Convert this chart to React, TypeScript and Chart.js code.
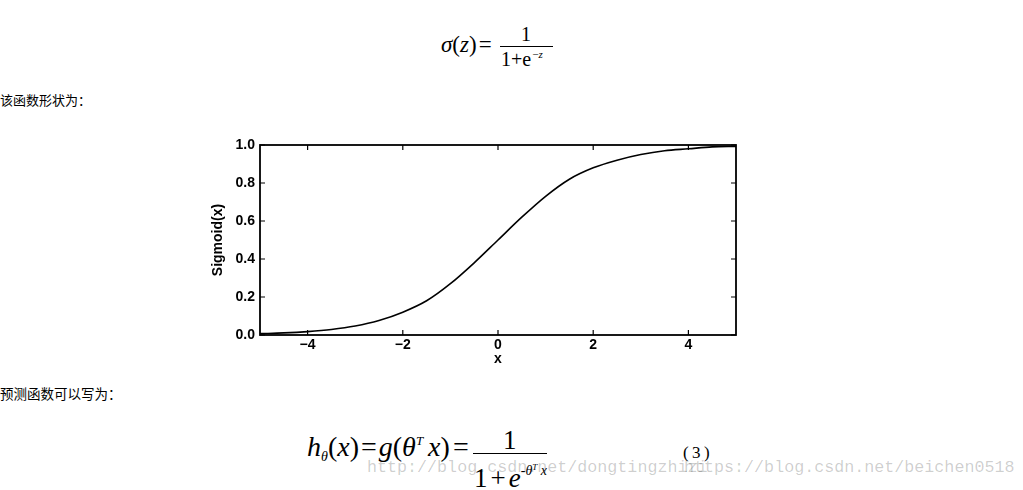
import React, { useEffect, useRef } from 'react';
import { Chart, registerables } from 'chart.js';

Chart.register(...registerables);

// Data
const xValues = [-5, -4.5, -4, -3.5, -3, -2.5, -2, -1.5, -1, -0.5, 0, 0.5, 1, 1.5, 2, 2.5, 3, 3.5, 4, 4.5, 5];
const sigmoidValues = [0.007, 0.011, 0.018, 0.029, 0.047, 0.076, 0.12, 0.18, 0.27, 0.38, 0.5, 0.62, 0.73, 0.82, 0.88, 0.92, 0.95, 0.97, 0.98, 0.99, 0.993];
const xTickValues = [-4, -2, 0, 2, 4];
const yTickValues = [0, 0.2, 0.4, 0.6, 0.8, 1.0];
const xAxisTitle = 'x';
const yAxisTitle = 'Sigmoid(x)';

const SERIF = '"Liberation Serif", "Times New Roman", serif';
const CJK = '"Noto Sans CJK SC", "Noto Sans", sans-serif';
const AXIS_FONT = '"Liberation Sans", Arial, sans-serif';

const framePlugin = {
  id: 'frameTicks',
  afterDraw(chart: any) {
    const { ctx, chartArea } = chart;
    const xs = chart.scales.x;
    const ys = chart.scales.y;
    const { left, right, top, bottom } = chartArea;
    ctx.save();
    ctx.strokeStyle = '#000';
    ctx.lineWidth = 1.8;
    ctx.strokeRect(left, top, right - left, bottom - top);
    ctx.lineWidth = 1.2;
    const len = 5;
    ctx.beginPath();
    xTickValues.forEach((v) => {
      const px = xs.getPixelForValue(v);
      ctx.moveTo(px, bottom);
      ctx.lineTo(px, bottom - len);
      ctx.moveTo(px, top);
      ctx.lineTo(px, top + len);
    });
    yTickValues.forEach((v) => {
      const py = ys.getPixelForValue(v);
      ctx.moveTo(left, py);
      ctx.lineTo(left + len, py);
      ctx.moveTo(right, py);
      ctx.lineTo(right - len, py);
    });
    ctx.stroke();
    ctx.restore();
  },
};

function SigmoidChart() {
  const ref = useRef<HTMLCanvasElement | null>(null);
  useEffect(() => {
    if (!ref.current) return;
    const chart = new Chart(ref.current, {
      type: 'line',
      data: {
        datasets: [
          {
            data: xValues.map((x, i) => ({ x, y: sigmoidValues[i] })),
            borderColor: '#000',
            borderWidth: 1.6,
            pointRadius: 0,
            cubicInterpolationMode: 'monotone',
            fill: false,
          },
        ],
      },
      options: {
        animation: false,
        responsive: false,
        maintainAspectRatio: false,
        layout: { padding: { left: 0, right: 64, top: 15, bottom: 0 } },
        plugins: { legend: { display: false }, tooltip: { enabled: false } },
        scales: {
          x: {
            type: 'linear',
            min: -5,
            max: 5,
            afterBuildTicks: (s: any) => {
              s.ticks = xTickValues.map((v) => ({ value: v }));
            },
            afterFit: (s: any) => {
              s.height = 40;
            },
            grid: { display: false, drawTicks: false },
            border: { display: false },
            ticks: {
              padding: 2,
              color: '#000',
              font: { family: AXIS_FONT, size: 14, weight: 'bold' },
              callback: (v: any) => (Number(v) < 0 ? '\u2212' + Math.abs(Number(v)) : String(v)),
            },
            title: {
              display: true,
              text: xAxisTitle,
              color: '#000',
              font: { family: AXIS_FONT, size: 14, weight: 'bold' },
              padding: { top: 0, bottom: 7 },
            },
          },
          y: {
            type: 'linear',
            min: 0,
            max: 1,
            afterBuildTicks: (s: any) => {
              s.ticks = yTickValues.map((v) => ({ value: v }));
            },
            afterFit: (s: any) => {
              s.width = 60;
            },
            grid: { display: false, drawTicks: false },
            border: { display: false },
            ticks: {
              padding: 5,
              color: '#000',
              font: { family: AXIS_FONT, size: 14, weight: 'bold' },
              callback: (v: any) => Number(v).toFixed(1),
            },
            title: {
              display: true,
              text: yAxisTitle,
              color: '#000',
              font: { family: AXIS_FONT, size: 14, weight: 'bold' },
              padding: { top: 10, bottom: 0 },
            },
          },
        },
      },
      plugins: [framePlugin],
    } as any);
    return () => chart.destroy();
  }, []);
  return (
    <canvas
      ref={ref}
      width={600}
      height={245}
      style={{ position: 'absolute', left: 200, top: 130, width: 600, height: 245 }}
    />
  );
}

const abs = (style: React.CSSProperties): React.CSSProperties => ({
  position: 'absolute',
  whiteSpace: 'nowrap',
  lineHeight: 1,
  ...style,
});

export default function App() {
  return (
    <div
      style={{
        position: 'absolute',
        left: 0,
        top: 0,
        width: 1023,
        height: 490,
        background: '#fff',
        overflow: 'hidden',
        color: '#000',
      }}
    >
      {/* Top formula */}
      <span style={abs({ left: 441, top: 33, fontFamily: SERIF, fontSize: 23 })}>
        <i>σ</i>(<i>z</i>)<span style={{ marginLeft: 2 }}>=</span>
      </span>
      <span style={abs({ left: 521, top: 24, fontFamily: SERIF, fontSize: 20 })}>1</span>
      <div style={{ position: 'absolute', left: 500, top: 46, width: 53, height: 1, background: '#000' }} />
      <span style={abs({ left: 501, top: 49, fontFamily: SERIF, fontSize: 20 })}>
        1+e<sup style={{ fontSize: 11, verticalAlign: 8, marginLeft: 1 }}>−<i>z</i></sup>
      </span>

      <div style={abs({ left: 0, top: 93, fontFamily: CJK, fontSize: 13 })}>该函数形状为：</div>

      <SigmoidChart />

      <div style={abs({ left: 0, top: 387, fontFamily: CJK, fontSize: 13.5 })}>预测函数可以写为：</div>

      {/* Watermarks */}
      <div
        style={abs({
          left: 367,
          top: 460,
          fontFamily: '"Liberation Mono", monospace',
          fontSize: 16.7,
          color: 'rgba(0,0,0,0.2)',
        })}
      >
        http://blog.csdn.net/dongtingzhizi
      </div>
      <div
        style={abs({
          left: 684,
          top: 460,
          fontFamily: '"Liberation Mono", monospace',
          fontSize: 16.7,
          color: 'rgba(0,0,0,0.2)',
        })}
      >
        https://blog.csdn.net/beichen0518
      </div>

      {/* Bottom formula */}
      <span style={abs({ left: 307, top: 433, fontFamily: SERIF, fontSize: 28 })}>
        <i>h</i>
        <sub style={{ fontSize: 14, verticalAlign: -5 }}>
          <i>θ</i>
        </sub>
        (<i>x</i>)<span style={{ margin: '0 2px' }}>=</span>
        <i>g</i>(<i>θ</i>
        <sup style={{ fontSize: 13, verticalAlign: 11 }}>
          <i>T</i>
        </sup>
        <i style={{ marginLeft: 5 }}>x</i>)<span style={{ marginLeft: 3 }}>=</span>
      </span>
      <span style={abs({ left: 503, top: 427, fontFamily: SERIF, fontSize: 27 })}>1</span>
      <div style={{ position: 'absolute', left: 473, top: 453, width: 74, height: 1.3, background: '#000' }} />
      <span style={abs({ left: 474, top: 463, fontFamily: SERIF, fontSize: 27 })}>
        1<span style={{ margin: '0 3px' }}>+</span>
        <i>e</i>
        <sup style={{ fontSize: 14, verticalAlign: 12 }}>
          <i>
            -θ<sup style={{ fontSize: 9, verticalAlign: 5 }}>T</sup> x
          </i>
        </sup>
      </span>
      <span style={abs({ left: 683, top: 444, fontFamily: SERIF, fontSize: 17 })}>(&#8201;3&#8201;)</span>
    </div>
  );
}
